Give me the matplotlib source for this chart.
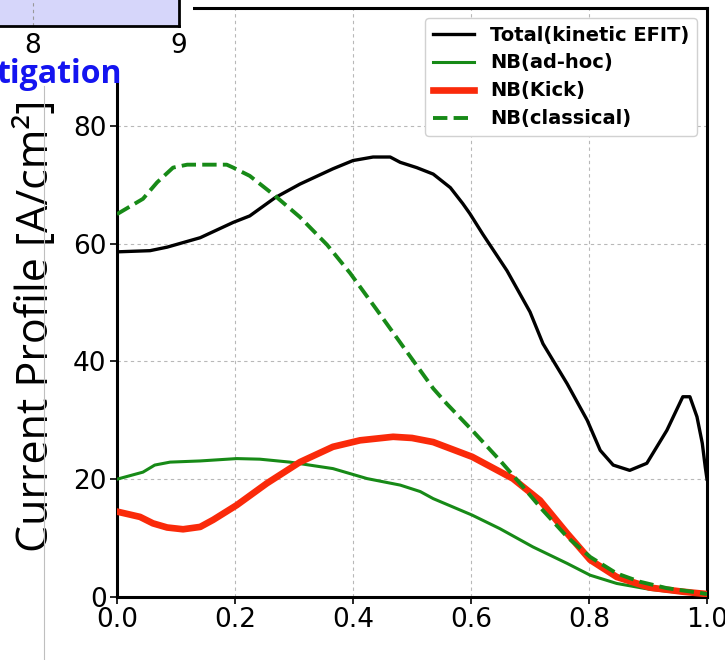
import matplotlib
matplotlib.use("Agg")
import matplotlib.pyplot as plt
from matplotlib.patches import Rectangle
from matplotlib.lines import Line2D

# ---------------- data ----------------
rho_total = [0, 0.056, 0.085, 0.141, 0.197, 0.225, 0.268, 0.31, 0.366, 0.4, 0.434,
             0.463, 0.48, 0.508, 0.536, 0.565, 0.586, 0.598, 0.62, 0.661, 0.7, 0.722,
             0.763, 0.797, 0.819, 0.841, 0.869, 0.898, 0.932, 0.959, 0.971, 0.983,
             0.992, 0.997, 1.0]
j_total = [58.6, 58.8, 59.4, 61.0, 63.6, 64.7, 67.8, 70.1, 72.7, 74.1, 74.7,
           74.7, 73.8, 72.9, 71.8, 69.5, 66.8, 65.1, 61.6, 55.4, 48.4, 43.0,
           36.2, 30.0, 24.9, 22.4, 21.5, 22.7, 28.3, 34.0, 34.0, 30.6,
           26.1, 22.1, 20.0]

rho_adhoc = [0, 0.044, 0.064, 0.09, 0.141, 0.203, 0.242, 0.293, 0.366, 0.424, 0.48,
             0.514, 0.536, 0.602, 0.649, 0.705, 0.763, 0.802, 0.847, 0.903, 0.959, 1.0]
j_adhoc = [20.0, 21.2, 22.4, 22.9, 23.1, 23.5, 23.4, 22.9, 21.8, 20.1, 19.0,
           17.9, 16.7, 13.9, 11.6, 8.5, 5.7, 3.7, 2.3, 1.3, 0.7, 0.5]

rho_kick = [0, 0.039, 0.061, 0.085, 0.112, 0.141, 0.163, 0.203, 0.254, 0.31, 0.366,
            0.412, 0.468, 0.5, 0.536, 0.602, 0.671, 0.717, 0.763, 0.802, 0.847,
            0.903, 0.959, 1.0]
j_kick = [14.5, 13.6, 12.5, 11.8, 11.5, 11.9, 13.1, 15.6, 19.3, 22.9, 25.5,
          26.6, 27.2, 27.0, 26.3, 23.8, 20.1, 16.4, 10.8, 6.3, 3.4,
          1.6, 0.9, 0.5]

rho_class = [0, 0.044, 0.068, 0.095, 0.119, 0.186, 0.197, 0.225, 0.268, 0.31, 0.356,
             0.395, 0.44, 0.485, 0.536, 0.559, 0.602, 0.649, 0.683, 0.722, 0.763,
             0.802, 0.847, 0.886, 0.932, 0.988, 1.0]
j_class = [65.0, 67.6, 70.4, 72.9, 73.4, 73.4, 72.9, 71.5, 68.1, 64.5, 59.8,
           55.0, 48.8, 42.5, 35.4, 32.8, 28.3, 23.2, 19.3, 14.7, 10.2,
           6.8, 4.0, 2.6, 1.5, 0.7, 0.5]

labels = ["Total(kinetic EFIT)", "NB(ad-hoc)", "NB(Kick)", "NB(classical)"]
xticks = [0.0, 0.2, 0.4, 0.6, 0.8, 1.0]
yticks = [0, 20, 40, 60, 80]
top_ticks = [8, 9]

# ---------------- figure ----------------
W, H = 725, 660
fig = plt.figure(figsize=(W / 100, H / 100), dpi=100)


def fx(px):
    return px / W


def fy(py):
    return 1 - py / H


ax = fig.add_axes([fx(117), fy(597), 590 / W, 589 / H])
green = '#178a17'
red = '#fa2a0a'
ax.plot(rho_total, j_total, color='black', lw=2.4, label=labels[0], zorder=3)
ax.plot(rho_adhoc, j_adhoc, color=green, lw=2.2, label=labels[1], zorder=3)
ax.plot(rho_kick, j_kick, color=red, lw=4.8, label=labels[2], zorder=3)
ax.plot(rho_class, j_class, color=green, lw=2.8, ls='--', label=labels[3], zorder=3)

ax.set_xlim(0, 1)
ax.set_ylim(0, 100)
ax.set_xticks(xticks)
ax.set_xticklabels([f"{v:.1f}" for v in xticks])
ax.set_yticks(yticks)
ax.tick_params(direction='out', length=5, width=1.2, labelsize=19, pad=2.5)
for s in ax.spines.values():
    s.set_linewidth(2.2)
ax.grid(True, color='0.72', linestyle=(0, (3, 3)), linewidth=0.8)
ax.set_axisbelow(True)

leg = ax.legend(loc='upper right', prop={'weight': 'bold', 'size': 14},
                labelspacing=0.46, handlelength=2.1, handletextpad=0.85,
                borderpad=0.4, fancybox=True, framealpha=1.0)
leg.get_frame().set_edgecolor('0.82')

# y label
fig.text(fx(37), fy(326), 'Current Profile [A/cm²]', rotation=90,
         ha='center', va='center', fontsize=31, family=['Open Sans', 'DejaVu Sans'])

# background vertical line (slide element)
fig.add_artist(Line2D([fx(44), fx(44)], [fy(86), 0], transform=fig.transFigure,
                      color='0.75', lw=0.8, zorder=4))

# white cover over top-left corner
fig.add_artist(Rectangle((0, fy(82)), fx(193), 82 / H, transform=fig.transFigure,
                         facecolor='white', edgecolor='none', zorder=5))

# partial upper panel
ax2 = fig.add_axes([fx(-20), fy(26), 199 / W, 46 / H])
ax2.set_zorder(6)
ax2.set_facecolor('#d6d6fa')
ax2.set_xlim(8 - 53 / 146, 9)
ax2.set_ylim(0, 1)
ax2.set_xticks(top_ticks)
ax2.set_xticklabels([str(v) for v in top_ticks])
ax2.set_yticks([])
ax2.tick_params(axis='x', length=0, labelsize=19, pad=5)
ax2.spines['top'].set_visible(False)
ax2.spines['left'].set_visible(False)
ax2.spines['right'].set_linewidth(2.0)
ax2.spines['bottom'].set_linewidth(2.0)
ax2.axvline(8, color='0.6', lw=0.8, ls=(0, (3, 3)))

fig.text(fx(-4), fy(83), 'tigation', fontsize=23, fontweight='bold', color='#1414f0',
         family=['Open Sans', 'DejaVu Sans'], va='baseline', ha='left', zorder=7)

fig.savefig('out.png', dpi=100)
